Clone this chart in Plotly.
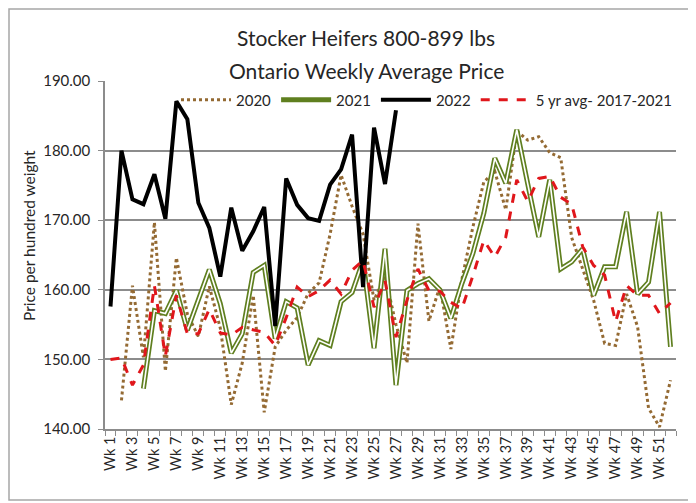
import plotly.graph_objects as go

weeks = list(range(1, 53))
tick_weeks = list(range(1, 53, 2))
tick_labels = ["Wk %d" % w for w in tick_weeks]

y2020 = [None, 144.1, 160.6, 150.3, 169.7, 148.3, 164.6, 156.5, 153.3, 160.5,
         154.5, 143.5, 149.5, 159.2, 142.4, 151.8, 154.2, 156.0, 159.5, 161.0,
         168.0, 176.5, 172.0, 168.0, 158.5, 162.0, 155.0, 149.5, 169.5, 155.5,
         160.5, 151.5, 161.5, 169.0, 175.5, 177.0, 171.5, 182.8, 181.5, 182.0,
         179.7, 179.0, 167.5, 163.0, 158.5, 152.3, 152.0, 159.4, 154.7, 143.0,
         140.3, 147.0]
y2021 = [None, None, None, 145.8, 157.0, 156.6, 159.9, 154.2, 158.5, 162.9,
         158.0, 150.9, 153.7, 162.5, 163.5, 153.0, 158.3, 157.4, 149.2, 152.7,
         152.0, 158.3, 159.6, 164.2, 151.6, 165.9, 146.3, 159.9, 160.9, 161.6,
         160.0, 155.9, 160.9, 165.2, 171.0, 178.9, 175.3, 183.0, 175.2, 167.6,
         175.8, 163.0, 164.0, 165.9, 159.2, 163.3, 163.3, 171.2, 159.4, 161.1,
         171.2, 151.8]
y2022 = [157.6, 180.0, 173.0, 172.3, 176.6, 170.2, 187.1, 184.5, 172.5, 168.9,
         161.9, 171.8, 165.6, 168.4, 171.9, 154.8, 176.0, 172.2, 170.3, 169.9,
         175.1, 177.3, 182.3, 160.4, 183.3, 175.2, 185.8] + [None] * 25
y5yr = [150.0, 150.2, 146.3, 149.2, 160.6, 150.5, 159.2, 153.7, 153.7, 157.2,
        153.8, 153.5, 154.6, 154.2, 153.9, 152.0, 156.0, 160.4, 159.0, 159.9,
        161.4, 159.4, 162.8, 164.2, 157.5, 161.3, 153.2, 158.5, 163.0, 159.9,
        159.8, 158.2, 157.3, 162.0, 167.1, 164.7, 167.6, 175.8, 172.7, 176.0,
        176.3, 173.3, 172.3, 166.2, 163.5, 162.1, 155.4, 160.6, 159.2, 159.2,
        156.6, 158.1]

FONT = "Lato"
TXT = "#262626"
AX = "#8c8c8c"

fig = go.Figure()
fig.add_trace(go.Scatter(x=weeks, y=y2020, name="2020", mode="lines",
                         line=dict(color="#946A33", width=3, dash="dot")))
fig.add_trace(go.Scatter(x=weeks, y=y2021, name="2021", mode="lines",
                         line=dict(color="#5F7F1F", width=5)))
fig.add_trace(go.Scatter(x=weeks, y=y2021, name="2021", mode="lines",
                         showlegend=False, hoverinfo="skip",
                         line=dict(color="white", width=1.6)))
fig.add_trace(go.Scatter(x=weeks, y=y2022, name="2022", mode="lines",
                         line=dict(color="black", width=4)))
fig.add_trace(go.Scatter(x=weeks, y=y5yr, name="5 yr avg- 2017-2021", mode="lines",
                         line=dict(color="#E0161B", width=3, dash="dash")))

# the page body adds an 8px offset, so the figure is laid out 8px smaller
OFF = 8
W, H = 696 - OFF, 503 - OFF
L, R, T, B = 105 - OFF, 20, 81 - OFF, 74
pw, ph = W - L - R, H - T - B

def px_x(p):
    return (p - OFF - L) / pw

def px_y(p):
    return (H - B - (p - OFF)) / ph

fig.update_layout(
    width=W, height=H,
    margin=dict(l=L, r=R, t=T, b=B),
    paper_bgcolor="white", plot_bgcolor="white",
    font=dict(family=FONT, color=TXT),
    showlegend=True,
    legend=dict(orientation="h", x=px_x(176), xanchor="left", y=px_y(100), yanchor="middle",
                font=dict(size=15, family=FONT, color=TXT), bgcolor="rgba(0,0,0,0)",
                itemwidth=50, traceorder="normal"),
    annotations=[
        dict(text="Stocker Heifers 800-899 lbs", xref="paper", yref="paper",
             x=px_x(366), y=px_y(37), showarrow=False, xanchor="center", yanchor="middle",
             font=dict(size=21, family=FONT, color=TXT)),
        dict(text="Ontario Weekly Average Price", xref="paper", yref="paper",
             x=px_x(366), y=px_y(70), showarrow=False, xanchor="center", yanchor="middle",
             font=dict(size=21, family=FONT, color=TXT)),
        dict(text="Price per hundred weight", xref="paper", yref="paper",
             x=px_x(29), y=px_y(236), showarrow=False, xanchor="center", yanchor="middle",
             textangle=-90, font=dict(size=15.5, family=FONT, color=TXT)),
    ],
    shapes=[
        dict(type="rect", xref="paper", yref="paper",
             x0=px_x(OFF + 1), x1=px_x(693), y0=px_y(500), y1=px_y(OFF + 1),
             line=dict(color="#a6a6a6", width=1.5), layer="below"),
    ],
)

fig.update_xaxes(
    range=[0.5, 52.5], tickmode="array", tickvals=tick_weeks, ticktext=tick_labels,
    tickangle=-90, ticks="", showgrid=False, zeroline=False,
    showline=True, linecolor=AX, linewidth=1.5,
    tickfont=dict(size=14.5, family=FONT, color=TXT),
    minor=dict(tickmode="linear", tick0=0.5, dtick=1, ticks="outside", ticklen=5,
               tickcolor=AX, tickwidth=1, showgrid=False),
)
fig.update_yaxes(
    range=[140, 190], dtick=10, tick0=140, tickformat=".2f",
    ticks="outside", ticklen=5, tickcolor=AX, ticklabelstandoff=5,
    showgrid=True, gridcolor=AX, gridwidth=1.5, zeroline=False,
    showline=True, linecolor=AX, linewidth=1.5,
    tickfont=dict(size=15, family=FONT, color=TXT),
)

fig.write_html("out.html")
